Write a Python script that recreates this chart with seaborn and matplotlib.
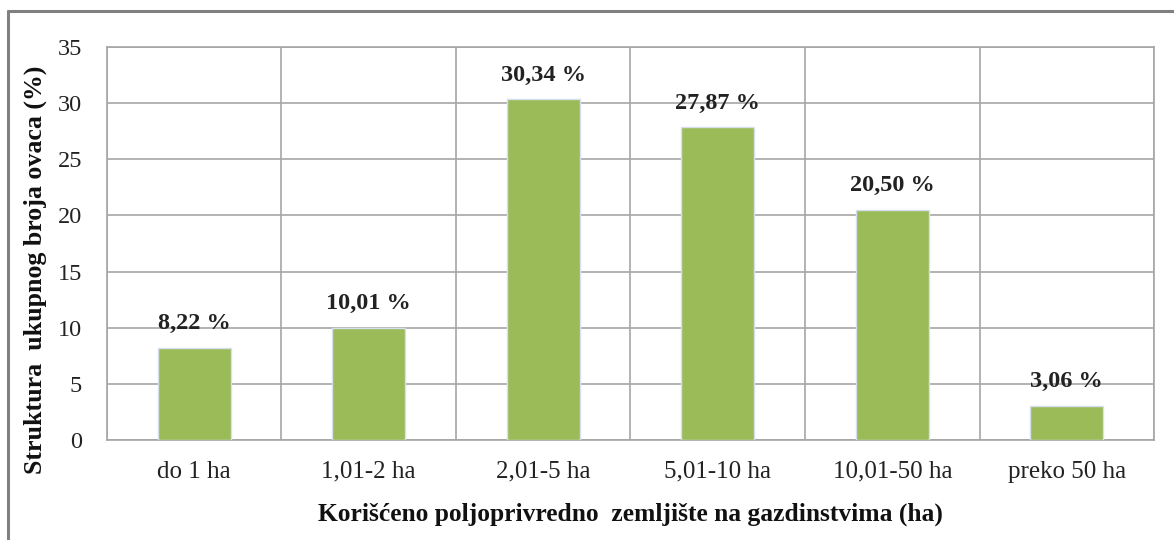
import matplotlib
matplotlib.use("Agg")
import matplotlib.pyplot as plt
import seaborn as sns
import pandas as pd
from matplotlib.lines import Line2D

categories = ["do 1 ha", "1,01-2 ha", "2,01-5 ha", "5,01-10 ha", "10,01-50 ha", "preko 50 ha"]
values = [8.22, 10.01, 30.34, 27.87, 20.50, 3.06]
yticks = [0, 5, 10, 15, 20, 25, 30, 35]
xlabel = "Korišćeno poljoprivredno  zemljište na gazdinstvima (ha)"
ylabel = "Struktura  ukupnog broja ovaca (%)"

sns.set_theme(style="white")
plt.rcParams['font.family'] = ['Liberation Serif', 'DejaVu Serif']

df = pd.DataFrame({"cat": categories, "val": values})

fig = plt.figure(figsize=(11.74, 5.4), dpi=100)
ax = fig.add_axes([0.0911, 0.1852, 0.9830 - 0.0911, 0.913 - 0.1852])

sns.barplot(data=df, x="cat", y="val", color="#9BBB59", saturation=1, width=0.42,
            edgecolor="#D6E0EC", linewidth=1.0, ax=ax, zorder=3)

ax.set_xlim(-0.5, len(categories) - 0.5)
ax.set_ylim(0, 35)
ax.set_yticks(yticks)
ax.set_yticklabels([str(t) for t in yticks], fontsize=17.5)
ax.set_xticks(range(len(categories)))
ax.set_xticklabels(categories, fontsize=18)
ax.set_xticks([i - 0.5 for i in range(len(categories) + 1)], minor=True)

grid_c = "#A6A6A6"
ax.yaxis.grid(True, color=grid_c, linewidth=1.2, zorder=0)
ax.xaxis.grid(True, which="minor", color=grid_c, linewidth=1.2, zorder=0)
ax.xaxis.grid(False, which="major")
ax.set_axisbelow(True)

ax.tick_params(axis="x", which="major", length=0, pad=15, labelcolor="#222222")
ax.tick_params(axis="x", which="minor", length=6, width=1.2, color=grid_c, direction="out")
ax.tick_params(axis="y", which="major", length=7, width=1.2, color=grid_c, direction="out",
               pad=11, labelcolor="#222222")

for s in ax.spines.values():
    s.set_color(grid_c)
    s.set_linewidth(1.2)

for i, v in enumerate(values):
    ax.text(i, v + 1.2, f"{v:.2f}".replace(".", ",") + " %", ha="center", va="bottom",
            fontsize=17.5, fontweight="bold", color="#222222")

ax.set_xlabel(xlabel, fontsize=18.4, fontweight="bold", color="#111111")
ax.set_ylabel(ylabel, fontsize=18.6, fontweight="bold", color="#111111")
ax.xaxis.set_label_coords(0.5, -0.188)
ax.xaxis.label.set_va("center")
ax.yaxis.set_label_coords(-0.0685, 0.433)
ax.yaxis.label.set_va("center")
ax.yaxis.label.set_ha("center")

# outer frame (top and left edges visible)
fig.add_artist(Line2D([8 / 1174, 8 / 1174], [0, 1 - 11 / 540], transform=fig.transFigure,
                      color="#808080", linewidth=2.2))
fig.add_artist(Line2D([8 / 1174, 1], [1 - 11 / 540, 1 - 11 / 540], transform=fig.transFigure,
                      color="#808080", linewidth=2.2))

fig.savefig("out.png", dpi=100)
